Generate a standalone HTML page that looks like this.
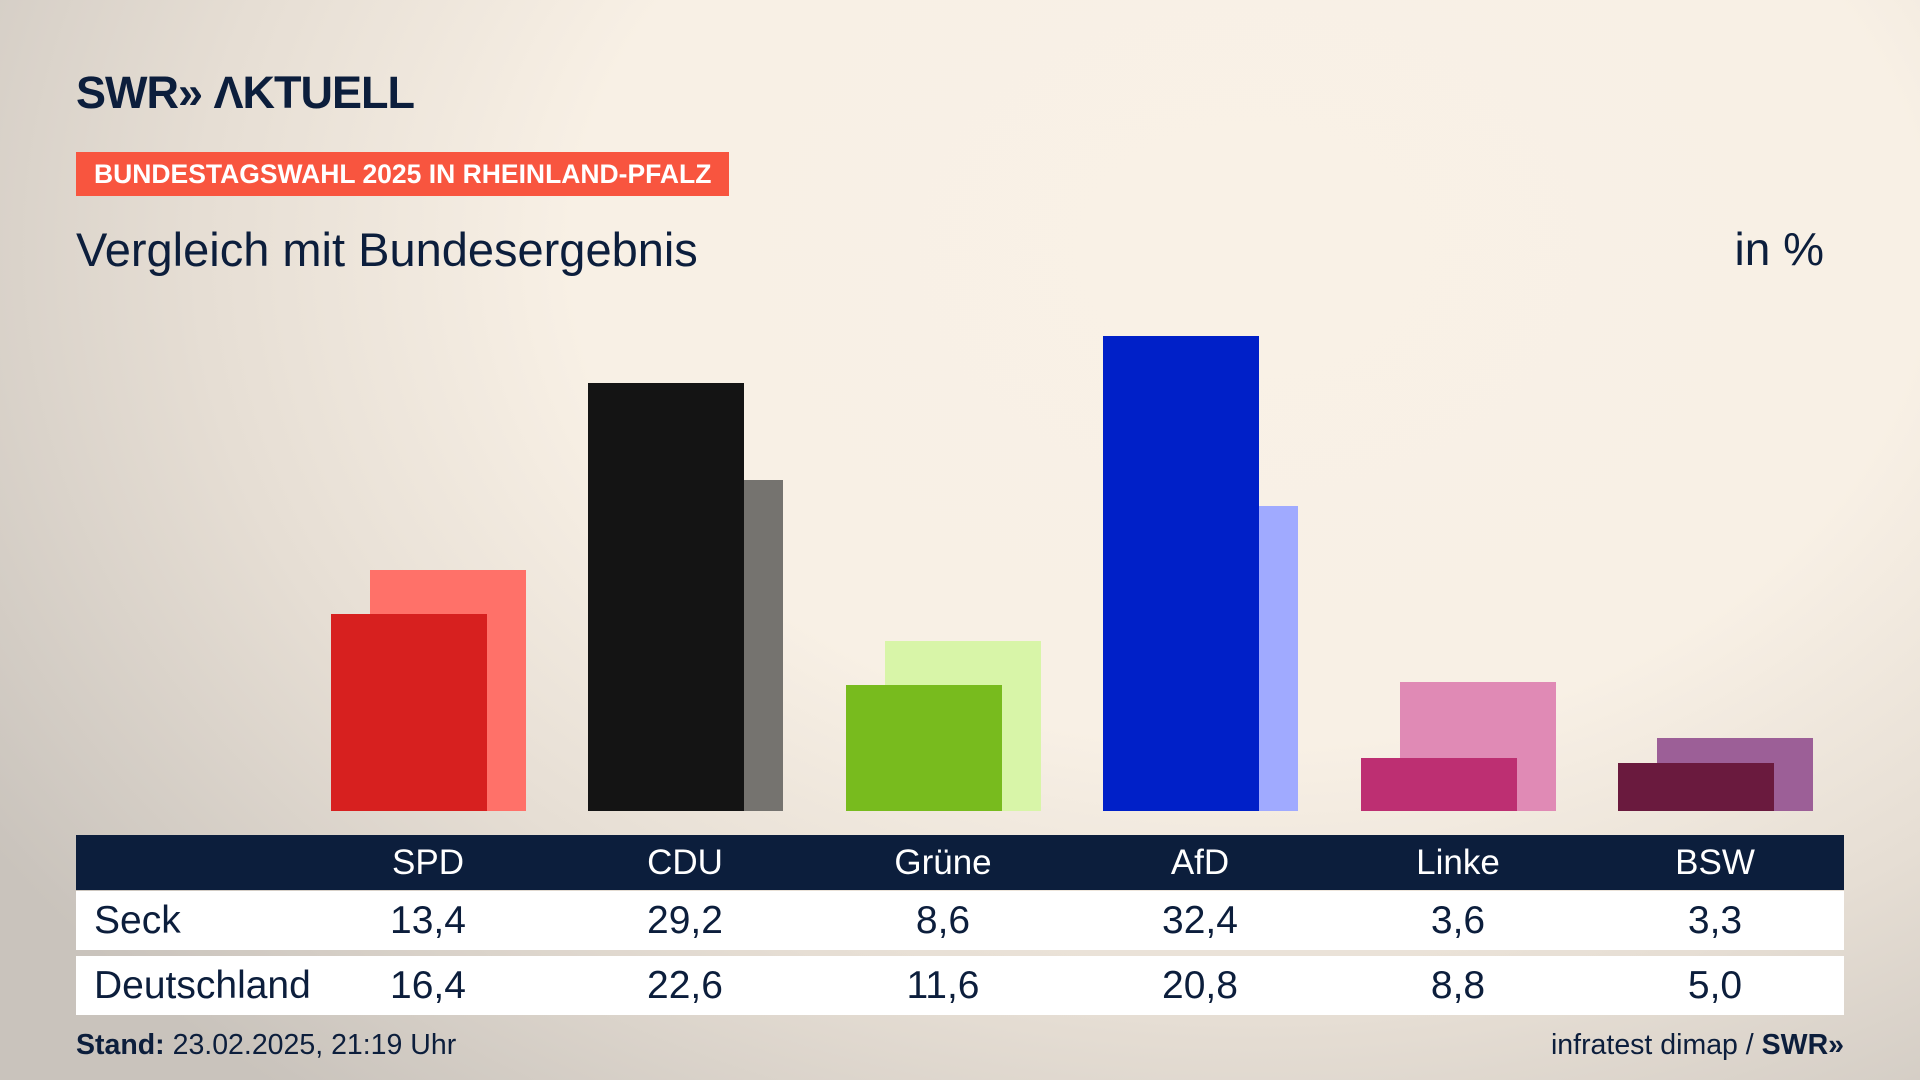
<!DOCTYPE html>
<html><head><meta charset="utf-8"><style>
html,body{margin:0;padding:0}
body{width:1920px;height:1080px;position:relative;overflow:hidden;font-family:"Liberation Sans",sans-serif;color:#0c1e3c;
background:radial-gradient(ellipse 1500px 1100px at 1250px 250px,#f9f1e6 0%,#f8f0e5 45%,#e6ded4 70%,#c9c3bc 100%);}
.abs{position:absolute}
.logo{left:76px;top:67px;font-size:45px;font-weight:bold;letter-spacing:-1px;color:#0c1e3c}
.tag{left:76px;top:152px;width:653px;height:44px;background:#f8553f;color:#fff;font-weight:bold;font-size:26.5px;line-height:44px;text-indent:18px}
.title{left:76px;top:222px;font-size:47px}
.unit{right:96px;top:222px;font-size:46px}
.bar{position:absolute}
.tbl{left:76px;width:1768px}
.cell{position:absolute;width:200px;text-align:center}
</style></head><body>
<div class="abs logo">SWR» ΛKTUELL</div>
<div class="abs tag">BUNDESTAGSWAHL 2025 IN RHEINLAND-PFALZ</div>
<div class="abs title">Vergleich mit Bundesergebnis</div>
<div class="abs unit">in %</div>

<div class="bar" style="left:370px;width:156px;top:570px;height:241px;background:#ff7169"></div>
<div class="bar" style="left:627px;width:156px;top:480px;height:331px;background:#75736f"></div>
<div class="bar" style="left:885px;width:156px;top:641px;height:170px;background:#d8f5a8"></div>
<div class="bar" style="left:1142px;width:156px;top:506px;height:305px;background:#a0aaff"></div>
<div class="bar" style="left:1400px;width:156px;top:682px;height:129px;background:#e08ab5"></div>
<div class="bar" style="left:1657px;width:156px;top:738px;height:73px;background:#9c5f97"></div>
<div class="bar" style="left:331px;width:156px;top:614px;height:197px;background:#d7201f"></div>
<div class="bar" style="left:588px;width:156px;top:383px;height:428px;background:#141414"></div>
<div class="bar" style="left:846px;width:156px;top:685px;height:126px;background:#78bb1e"></div>
<div class="bar" style="left:1103px;width:156px;top:336px;height:475px;background:#0020c8"></div>
<div class="bar" style="left:1361px;width:156px;top:758px;height:53px;background:#bd2f72"></div>
<div class="bar" style="left:1618px;width:156px;top:763px;height:48px;background:#6a1a3e"></div>

<div class="abs tbl" style="top:835px;height:55px;background:#0c1e3c"></div>
<div class="abs tbl" style="top:891px;height:59px;background:#fff"></div>
<div class="abs tbl" style="top:956px;height:59px;background:#fff"></div>

<div class="abs" style="left:0;top:835px;width:1920px;height:55px;color:#fff;font-size:35px;line-height:55px">
<div class="cell" style="left:328px">SPD</div><div class="cell" style="left:585px">CDU</div><div class="cell" style="left:843px">Grüne</div><div class="cell" style="left:1100px">AfD</div><div class="cell" style="left:1358px">Linke</div><div class="cell" style="left:1615px">BSW</div>
</div>
<div class="abs" style="left:0;top:891px;width:1920px;height:59px;font-size:39px;line-height:59px">
<div class="abs" style="left:94px">Seck</div>
<div class="cell" style="left:328px">13,4</div><div class="cell" style="left:585px">29,2</div><div class="cell" style="left:843px">8,6</div><div class="cell" style="left:1100px">32,4</div><div class="cell" style="left:1358px">3,6</div><div class="cell" style="left:1615px">3,3</div>
</div>
<div class="abs" style="left:0;top:956px;width:1920px;height:59px;font-size:39px;line-height:59px">
<div class="abs" style="left:94px">Deutschland</div>
<div class="cell" style="left:328px">16,4</div><div class="cell" style="left:585px">22,6</div><div class="cell" style="left:843px">11,6</div><div class="cell" style="left:1100px">20,8</div><div class="cell" style="left:1358px">8,8</div><div class="cell" style="left:1615px">5,0</div>
</div>

<div class="abs" style="left:76px;top:1029px;font-size:28.5px"><b>Stand:</b> 23.02.2025, 21:19 Uhr</div>
<div class="abs" style="right:76px;top:1029px;font-size:28.5px">infratest dimap / <b>SWR»</b></div>
</body></html>
